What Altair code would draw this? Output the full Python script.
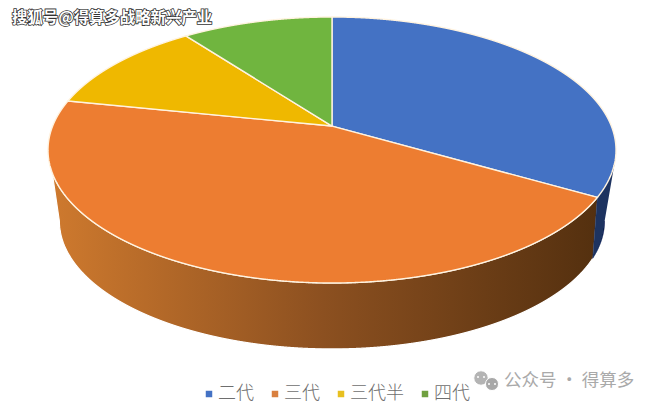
import math
import pandas as pd
import altair as alt

names = ["二代", "三代", "三代半", "四代"]
shares = [30.8, 50.2, 10.4, 8.6]
colors = ["#4472C4", "#ED7D31", "#EFB800", "#70B53F"]
legend_colors = ["#4472C4", "#D9803F", "#E8C020", "#70A040"]

# ring sizes in pie units (top face has radius 1)
apex_y = 0.18
bottom_cx, bottom_cy, bottom_rx, bottom_ry = 0.0, -0.534, 0.96, 0.962
bottom_split = 107
W, H = 641, 392
x_dom = [(8 - 332) / 284, (649 - 332) / 284]
y_dom = [(150 - 400) / 133, (150 - 8) / 133]


def top(t):
    return math.sin(t), math.cos(t)


def bottom(t):
    return bottom_cx + bottom_rx * math.sin(t), bottom_cy + bottom_ry * math.cos(t)


def arc(fn, a, b):
    n = max(2, int(abs(b - a) * 90))
    return [fn(math.radians(a + (b - a) * i / n)) for i in range(n + 1)]


def frame(points, **extra):
    df = pd.DataFrame(points, columns=["x", "y"])
    df["i"] = range(len(df))
    for k, v in extra.items():
        df[k] = v
    return df


x_enc = alt.X("x:Q", scale=alt.Scale(domain=x_dom), axis=None)
y_enc = alt.Y("y:Q", scale=alt.Scale(domain=y_dom), axis=None)

# slices of the top face
rows = []
start = 0
for name, share in zip(names, shares):
    end = start + share * 3.6
    pts = [(0, apex_y)] + arc(top, start, end) + [(0, apex_y)]
    rows.append(frame(pts, name=name))
    start = end
slices = pd.concat(rows)
split_blue = shares[0] * 3.6

# side wall, behind the top face
blue_side = frame(arc(top, 96, split_blue) + arc(bottom, bottom_split, 90))
orange_side = frame(arc(top, split_blue, 272) + arc(bottom, 270, bottom_split))

side1 = alt.Chart(blue_side).mark_line(fill="#1D3360", stroke="#1D3360", strokeWidth=0.5).encode(
    x=x_enc, y=y_enc, order="i:Q"
)
side2 = alt.Chart(orange_side).mark_line(
    fill=alt.Gradient(
        gradient="linear", x1=0, x2=1, y1=0, y2=0,
        stops=[
            alt.GradientStop(color="#CF7A2E", offset=0),
            alt.GradientStop(color="#8C5020", offset=0.5),
            alt.GradientStop(color="#54300F", offset=1),
        ],
    ),
    stroke="#FFFFFF", strokeWidth=1.2,
).encode(x=x_enc, y=y_enc, order="i:Q")

pie = alt.Chart(slices).mark_line(stroke="#FFF3E0", strokeWidth=1.4).encode(
    x=x_enc,
    y=y_enc,
    order="i:Q",
    fill=alt.Fill(
        "name:N",
        sort=names,
        scale=alt.Scale(domain=names, range=colors),
        legend=None,
    ),
)

# legend
font = "Noto Sans CJK SC"
legend_df = pd.DataFrame({"name": names})
legend_layer = alt.Chart(legend_df).mark_square(size=0, opacity=0).encode(
    color=alt.Color(
        "name:N",
        sort=names,
        scale=alt.Scale(domain=names, range=legend_colors),
        legend=alt.Legend(
            orient="none", legendX=192, legendY=377, direction="horizontal", title=None,
            symbolType="square", symbolSize=42, symbolOpacity=1, labelFont=font, labelFontSize=18,
            labelFontWeight=300, labelColor="#6E6E6E", columnPadding=12, labelOffset=0,
            symbolStrokeWidth=0,
        ),
    )
)

# watermarks
mark_text = "搜狐号@得算多战略新兴产业"
wm_df = pd.DataFrame({"t": [mark_text]})
wm_halo = alt.Chart(wm_df).mark_text(
    font=font, fontSize=15.4, align="left", baseline="middle", stroke="#333333", strokeWidth=1.6,
    fill="#333333", fontWeight=700,
).encode(x=alt.value(4), y=alt.value(10), text="t:N")
wm_top = alt.Chart(wm_df).mark_text(
    font=font, fontSize=15.4, align="left", baseline="middle", fill="#FFFFFF", fontWeight=700,
).encode(x=alt.value(4), y=alt.value(10), text="t:N")

gz_df = pd.DataFrame({"t": ["公众号 · 得算多"]})
gz = alt.Chart(gz_df).mark_text(
    font=font, fontSize=17.5, align="left", baseline="middle", fill="#A9A9A9",
).encode(x=alt.value(496), y=alt.value(373), text="t:N")

# little chat icon next to the account name
bubble_x = [473, 484]
bubble_y = [370, 376]
bubble_size = [210, 170]
bubble_fill = ["#B4B4B4", "#A8A8A8"]
bubbles = pd.DataFrame({"x": bubble_x, "y": bubble_y, "s": bubble_size, "c": bubble_fill})
icon = alt.Chart(bubbles).mark_circle(opacity=1, stroke="#FFFFFF", strokeWidth=1).encode(
    x=alt.X("x:Q", scale=alt.Scale(domain=[0, W]), axis=None),
    y=alt.Y("y:Q", scale=alt.Scale(domain=[H, 0]), axis=None),
    size=alt.Size("s:Q", scale=None, legend=None),
    color=alt.Color("c:N", scale=None, legend=None),
)
eye_x = [470, 476, 481, 487]
eye_y = [369, 369, 376, 376]
eyes = alt.Chart(pd.DataFrame({"x": eye_x, "y": eye_y})).mark_circle(size=4, color="#FFFFFF", opacity=1).encode(
    x=alt.X("x:Q", scale=alt.Scale(domain=[0, W]), axis=None),
    y=alt.Y("y:Q", scale=alt.Scale(domain=[H, 0]), axis=None),
)

chart = alt.layer(side2, side1, pie, wm_halo, wm_top, gz, icon + eyes, legend_layer).resolve_scale(
    x="independent", y="independent", fill="independent", color="independent"
).properties(width=W, height=H, padding=0, background="#FFFFFF").configure_view(stroke=None)

chart.save("out.html", embed_options={"renderer": "svg", "actions": False})
